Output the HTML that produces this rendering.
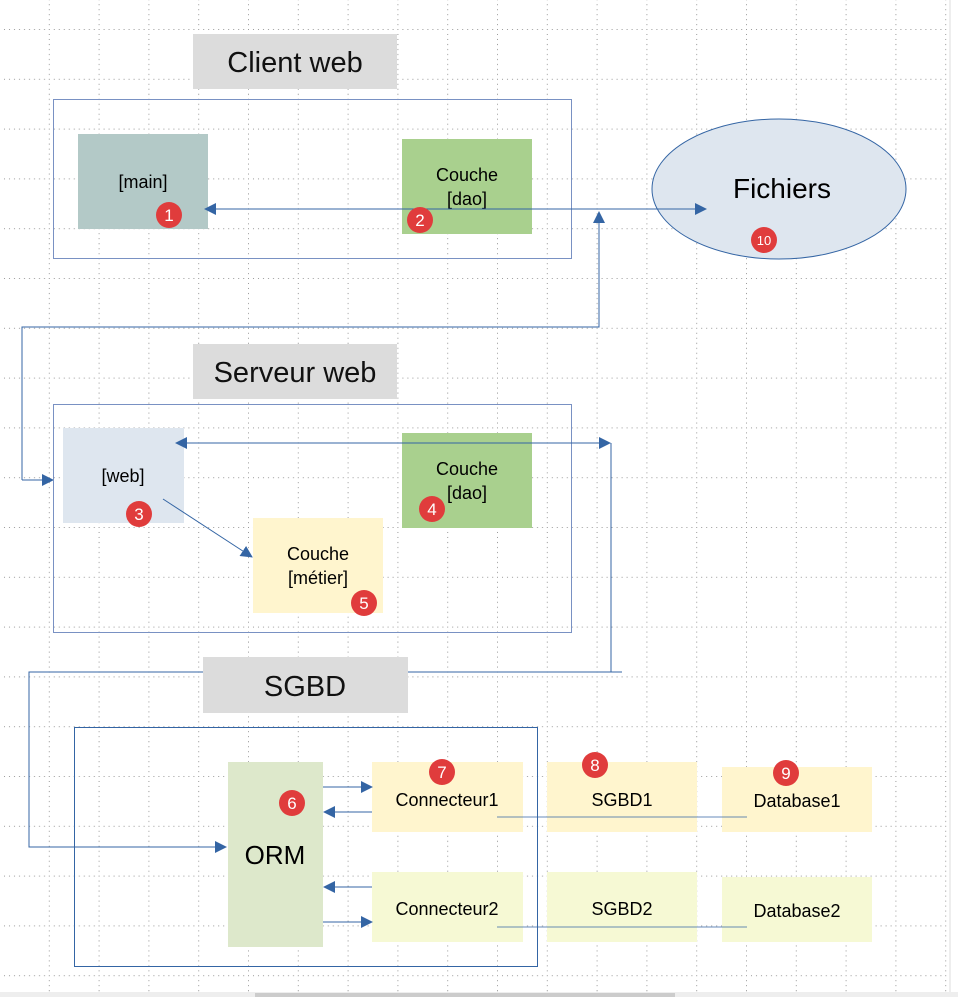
<!DOCTYPE html>
<html><head><meta charset="utf-8"><style>
html,body{margin:0;padding:0;background:#fff;}
svg{display:block;font-family:"Liberation Sans",sans-serif;}
</style></head><body>
<svg width="958" height="997" viewBox="0 0 958 997" xmlns="http://www.w3.org/2000/svg">
<defs>
<pattern id="g" x="-1" y="29" width="49.8" height="49.8" patternUnits="userSpaceOnUse">
<line x1="0" y1="0.5" x2="49.8" y2="0.5" stroke="#999" stroke-width="1" stroke-dasharray="1,4"/>
<line x1="0.5" y1="0" x2="0.5" y2="49.8" stroke="#999" stroke-width="1" stroke-dasharray="1,4"/>
</pattern>
<marker id="a" markerWidth="12" markerHeight="12" refX="11" refY="6" orient="auto" markerUnits="userSpaceOnUse"><path d="M0,0 L12,6 L0,12z" fill="#3465a4"/></marker>
<marker id="b" markerWidth="12" markerHeight="12" refX="1" refY="6" orient="auto" markerUnits="userSpaceOnUse"><path d="M12,0 L0,6 L12,12z" fill="#3465a4"/></marker>
</defs>
<rect width="958" height="997" fill="#fff"/>
<rect width="948" height="992" fill="url(#g)"/>
<line x1="950" y1="0" x2="950" y2="997" stroke="#ddd"/>
<rect x="0" y="992" width="958" height="5" fill="#eee"/>
<rect x="255" y="993" width="420" height="4" fill="#ccc"/>

<rect x="193" y="34" width="204" height="55" fill="#dcdcdc"/>
<text x="295" y="72" font-size="29" text-anchor="middle" fill="#111">Client web</text>
<rect x="53.5" y="99.5" width="518" height="159" fill="none" stroke="#7991c3"/>
<rect x="78" y="134" width="130" height="95" fill="#b3c9c7"/>
<text x="143" y="188" font-size="18" text-anchor="middle">[main]</text>
<rect x="402" y="139" width="130" height="95" fill="#a9d08e"/>
<text x="467" y="181" font-size="18" text-anchor="middle">Couche</text>
<text x="467" y="205" font-size="18" text-anchor="middle">[dao]</text>
<ellipse cx="779" cy="189" rx="127" ry="70" fill="#dee6ef" stroke="#3465a4"/>
<text x="782" y="198" font-size="28" text-anchor="middle">Fichiers</text>
<line x1="205" y1="209" x2="706" y2="209" stroke="#3465a4" marker-start="url(#b)" marker-end="url(#a)"/>
<polyline points="22,480 22,327 599,327 599,212" fill="none" stroke="#3465a4" marker-end="url(#a)"/>
<line x1="22" y1="480" x2="53" y2="480" stroke="#3465a4" marker-end="url(#a)"/>

<rect x="193" y="344" width="204" height="55" fill="#dcdcdc"/>
<text x="295" y="382" font-size="29" text-anchor="middle" fill="#111">Serveur web</text>
<rect x="53.5" y="404.5" width="518" height="228" fill="none" stroke="#7991c3"/>
<rect x="63" y="428" width="121" height="95" fill="#dee6ef"/>
<text x="123" y="482" font-size="18" text-anchor="middle">[web]</text>
<rect x="402" y="433" width="130" height="95" fill="#a9d08e"/>
<text x="467" y="475" font-size="18" text-anchor="middle">Couche</text>
<text x="467" y="499" font-size="18" text-anchor="middle">[dao]</text>
<rect x="253" y="518" width="130" height="95" fill="#fff5ce"/>
<text x="318" y="560" font-size="18" text-anchor="middle">Couche</text>
<text x="318" y="584" font-size="18" text-anchor="middle">[métier]</text>
<line x1="163" y1="499" x2="252" y2="557" stroke="#3465a4" marker-end="url(#a)"/>
<line x1="176" y1="443" x2="610" y2="443" stroke="#3465a4" marker-start="url(#b)" marker-end="url(#a)"/>
<polyline points="611,443 611,672 622,672" fill="none" stroke="#3465a4"/>

<polyline points="611,672 29,672 29,847 226,847" fill="none" stroke="#3465a4" marker-end="url(#a)"/>
<rect x="203" y="657" width="205" height="56" fill="#dcdcdc"/>
<text x="305" y="696" font-size="29" text-anchor="middle" fill="#111">SGBD</text>
<rect x="74.5" y="727.5" width="463" height="239" fill="none" stroke="#3465a4"/>
<rect x="228" y="762" width="95" height="185" fill="#dde8cb"/>
<text x="275" y="864" font-size="26" text-anchor="middle">ORM</text>
<rect x="372" y="762" width="151" height="70" fill="#fff5ce"/>
<text x="447" y="806" font-size="18" text-anchor="middle">Connecteur1</text>
<rect x="547" y="762" width="150" height="70" fill="#fff5ce"/>
<text x="622" y="806" font-size="18" text-anchor="middle">SGBD1</text>
<rect x="722" y="767" width="150" height="65" fill="#fff5ce"/>
<text x="797" y="807" font-size="18" text-anchor="middle">Database1</text>
<rect x="372" y="872" width="151" height="70" fill="#f6f9d4"/>
<text x="447" y="915" font-size="18" text-anchor="middle">Connecteur2</text>
<rect x="547" y="872" width="150" height="70" fill="#f6f9d4"/>
<text x="622" y="915" font-size="18" text-anchor="middle">SGBD2</text>
<rect x="722" y="877" width="150" height="65" fill="#f6f9d4"/>
<text x="797" y="917" font-size="18" text-anchor="middle">Database2</text>
<line x1="323" y1="787" x2="372" y2="787" stroke="#3465a4" marker-end="url(#a)"/>
<line x1="372" y1="812" x2="324" y2="812" stroke="#3465a4" marker-end="url(#a)"/>
<line x1="372" y1="887" x2="324" y2="887" stroke="#3465a4" marker-end="url(#a)"/>
<line x1="323" y1="922" x2="372" y2="922" stroke="#3465a4" marker-end="url(#a)"/>
<line x1="497" y1="817" x2="747" y2="817" stroke="#3465a4" stroke-width="0.8"/>
<line x1="497" y1="927" x2="747" y2="927" stroke="#3465a4" stroke-width="0.8"/>

<g font-size="17" fill="#fff" text-anchor="middle">
<circle cx="169" cy="215" r="13" fill="#e03c3c"/><text x="169" y="221">1</text>
<circle cx="420" cy="220" r="13" fill="#e03c3c"/><text x="420" y="226">2</text>
<circle cx="764" cy="240" r="13" fill="#e03c3c"/><text x="764" y="245" font-size="13">10</text>
<circle cx="139" cy="514" r="13" fill="#e03c3c"/><text x="139" y="520">3</text>
<circle cx="432" cy="509" r="13" fill="#e03c3c"/><text x="432" y="515">4</text>
<circle cx="364" cy="603" r="13" fill="#e03c3c"/><text x="364" y="609">5</text>
<circle cx="292" cy="803" r="13" fill="#e03c3c"/><text x="292" y="809">6</text>
<circle cx="442" cy="772" r="13" fill="#e03c3c"/><text x="442" y="778">7</text>
<circle cx="595" cy="765" r="13" fill="#e03c3c"/><text x="595" y="771">8</text>
<circle cx="786" cy="773" r="13" fill="#e03c3c"/><text x="786" y="779">9</text>
</g>
</svg>
</body></html>
